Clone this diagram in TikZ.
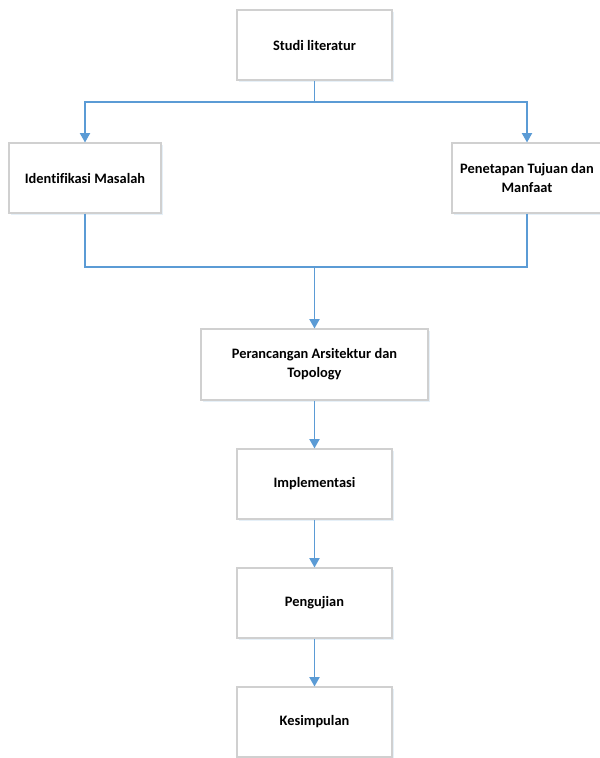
\documentclass[tikz,border=0pt]{standalone}
\usepackage{fontspec}
\setmainfont[Ligatures=NoCommon]{Carlito}
\usetikzlibrary{arrows.meta,shadows}
\definecolor{flow}{HTML}{5B9BD5}
\definecolor{boxline}{HTML}{D0D0D0}
\tikzset{
  stepbox/.style={draw=boxline, line width=0.8pt, fill=white, align=center,
    font=\bfseries\fontsize{10.8}{14.3}\selectfont, inner sep=2pt,
    drop shadow={shadow xshift=1.2pt, shadow yshift=-1.2pt, fill=flow!25, opacity=0.6}},
  link/.style={draw=flow, line width=1.4pt},
  arr/.style={link, -{Triangle[width=7.5pt,length=7pt]}}
}
\begin{document}
\begin{tikzpicture}[x=0.75pt,y=-0.75pt]
\useasboundingbox (0,0) rectangle (600,758);
\clip (0,0) rectangle (600,758);
\node[stepbox, minimum width=155*0.75pt, minimum height=70*0.75pt] (studi) at (314.5,45) {Studi literatur};
\node[stepbox, minimum width=152*0.75pt, minimum height=70*0.75pt] (ident) at (85,178) {Identifikasi Masalah};
\node[stepbox, minimum width=150*0.75pt, minimum height=70*0.75pt] (tujuan) at (527,178) {Penetapan Tujuan dan\\Manfaat};
\node[stepbox, minimum width=227*0.75pt, minimum height=71*0.75pt] (rancang) at (314.5,364.5) {Perancangan Arsitektur dan\\Topology};
\node[stepbox, minimum width=155*0.75pt, minimum height=70*0.75pt] (impl) at (314.5,484) {Implementasi};
\node[stepbox, minimum width=155*0.75pt, minimum height=70*0.75pt] (uji) at (314.5,603) {Pengujian};
\node[stepbox, minimum width=155*0.75pt, minimum height=70*0.75pt] (kesim) at (314.5,722) {Kesimpulan};
\coordinate (split) at (314.5,102);
\coordinate (join) at (314.5,267);
\draw[link] (studi.south) -- (split);
\draw[arr] (split) -| (ident.north);
\draw[arr] (split) -| (tujuan.north);
\draw[link] (ident.south) |- (join);
\draw[link] (tujuan.south) |- (join);
\draw[arr] (join) -- (rancang.north);
\draw[arr] (rancang.south) -- (impl.north);
\draw[arr] (impl.south) -- (uji.north);
\draw[arr] (uji.south) -- (kesim.north);
\end{tikzpicture}
\end{document}
